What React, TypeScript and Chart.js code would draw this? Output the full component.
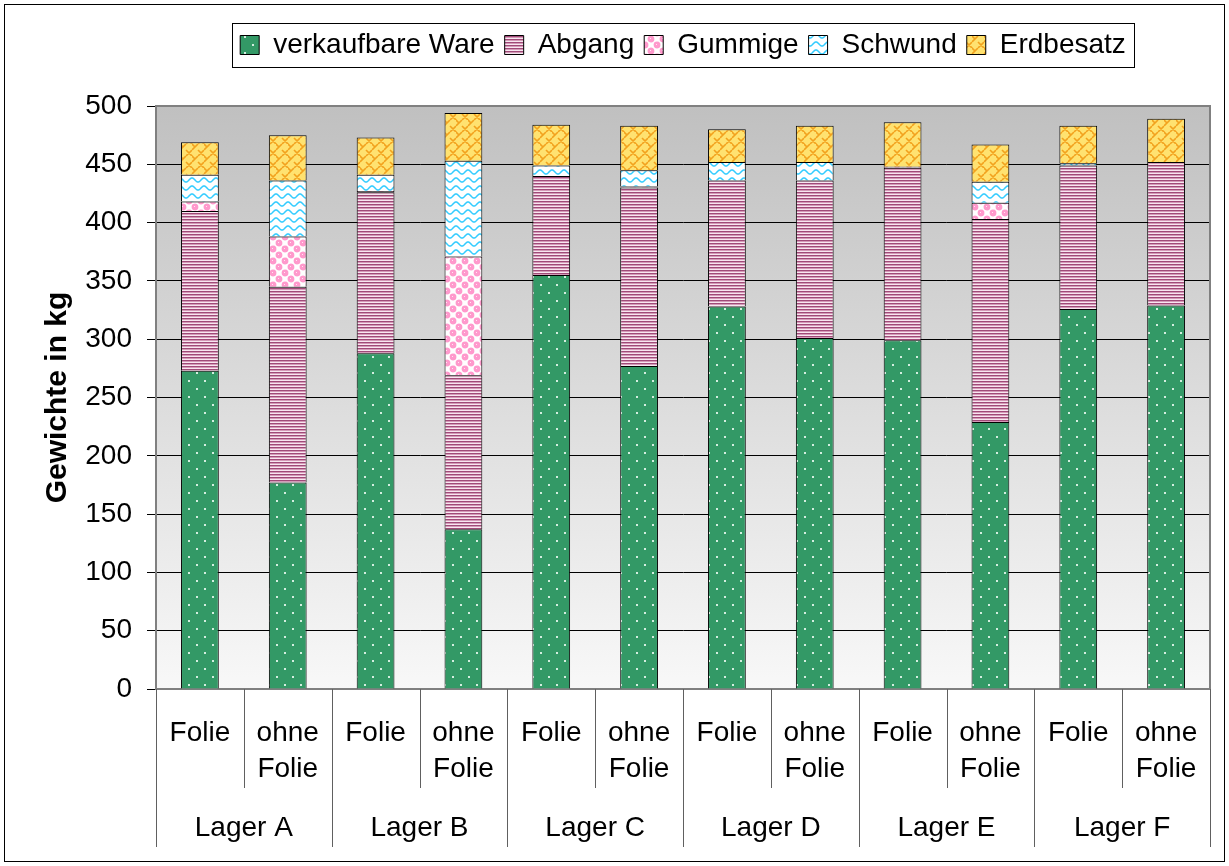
import React, { useEffect, useRef } from 'react';
import { Chart, registerables } from 'chart.js';

Chart.register(...registerables);

// ---- data ----
const lagerLabels = ['Lager A', 'Lager B', 'Lager C', 'Lager D', 'Lager E', 'Lager F'];
const variantLabels = ['Folie', 'ohne Folie'];
const seriesNames = ['verkaufbare Ware', 'Abgang', 'Gummige', 'Schwund', 'Erdbesatz'];
const verkaufbareWare = [273, 177, 288, 137, 355, 277, 328, 301, 299, 229, 326, 329];
const abgang = [137, 168, 138, 132, 85, 153, 108, 135, 148, 174, 123, 123];
const gummige = [8, 43, 1, 102, 0, 1, 0, 0, 1, 14, 0, 0];
const schwund = [23, 48, 14, 82, 9, 14, 16, 16, 0, 18, 2, 0];
const erdbesatz = [28, 39, 32, 41, 35, 38, 28, 31, 38, 32, 32, 37];
const yMin = 0;
const yMax = 500;
const yStep = 50;
const yTitle = 'Gewichte in kg';

const FONT = '"Liberation Sans", Arial, Helvetica, sans-serif';

function makePattern(w: number, h: number, draw: (g: CanvasRenderingContext2D) => void): CanvasPattern {
  const c = document.createElement('canvas');
  c.width = w;
  c.height = h;
  const g = c.getContext('2d')!;
  draw(g);
  return g.createPattern(c, 'repeat')!;
}

function buildPatterns() {
  const green = makePattern(16, 16, (g) => {
    g.fillStyle = '#339966';
    g.fillRect(0, 0, 16, 16);
    g.fillStyle = '#d4eee0';
    g.fillRect(4, 4, 2, 2);
    g.fillRect(12, 12, 2, 2);
  });
  const stripes = makePattern(4, 3, (g) => {
    g.fillStyle = '#f8e6f0';
    g.fillRect(0, 0, 4, 3);
    g.fillStyle = '#a04a78';
    g.fillRect(0, 0, 4, 1);
    g.fillStyle = '#d49ab8';
    g.fillRect(0, 1, 4, 1);
  });
  const bubbles = makePattern(12, 12, (g) => {
    g.fillStyle = '#ffffff';
    g.fillRect(0, 0, 12, 12);
    g.fillStyle = '#ff99cc';
    const centers = [[3, 3], [9, 9]];
    for (const [cx, cy] of centers) {
      for (const dx of [-12, 0, 12]) {
        for (const dy of [-12, 0, 12]) {
          g.beginPath();
          g.arc(cx + dx, cy + dy, 3.4, 0, Math.PI * 2);
          g.fill();
        }
      }
    }
    g.fillStyle = '#ffe6f2';
    g.fillRect(2, 2, 1, 1);
    g.fillRect(8, 8, 1, 1);
  });
  const waves = makePattern(12, 8, (g) => {
    g.fillStyle = '#ffffff';
    g.fillRect(0, 0, 12, 8);
    g.strokeStyle = '#33ccff';
    g.lineWidth = 1.6;
    g.beginPath();
    for (let x = -1; x <= 13; x += 0.5) {
      const y = 4 - 2 * Math.cos((2 * Math.PI * x) / 12);
      if (x === -1) g.moveTo(x, y);
      else g.lineTo(x, y);
    }
    g.stroke();
  });
  const weave = makePattern(12, 12, (g) => {
    g.fillStyle = '#ffe270';
    g.fillRect(0, 0, 12, 12);
    g.strokeStyle = '#f2a21e';
    g.lineWidth = 1.6;
    g.beginPath();
    g.moveTo(0, 6); g.lineTo(6, 0);
    g.moveTo(6, 12); g.lineTo(12, 6);
    g.moveTo(6, 6); g.lineTo(12, 12);
    g.moveTo(0, 0); g.lineTo(3, 3);
    g.moveTo(-1, 11); g.lineTo(1, 13);
    g.stroke();
  });
  return [green, stripes, bubbles, waves, weave];
}

const decorPlugin = {
  id: 'decor',
  beforeDraw(chart: any) {
    const { ctx, chartArea: a, width, height } = chart;
    ctx.save();
    ctx.fillStyle = '#ffffff';
    ctx.fillRect(0, 0, width, height);
    const grad = ctx.createLinearGradient(0, a.top, 0, a.bottom);
    grad.addColorStop(0, '#c0c0c0');
    grad.addColorStop(1, '#f8f8f8');
    ctx.fillStyle = grad;
    ctx.fillRect(a.left, a.top, a.right - a.left, a.bottom - a.top);
    ctx.restore();
  },
  afterDraw(chart: any) {
    const { ctx, chartArea: a, width, height } = chart;
    const xs = chart.scales.x;
    ctx.save();
    // plot area border (top / right)
    ctx.strokeStyle = '#808080';
    ctx.lineWidth = 2;
    ctx.beginPath();
    ctx.moveTo(a.left, a.top);
    ctx.lineTo(a.right, a.top);
    ctx.lineTo(a.right, a.bottom);
    ctx.stroke();

    // category separators
    const n = xs.ticks.length;
    const half = (xs.getPixelForValue(1) - xs.getPixelForValue(0)) / 2;
    ctx.strokeStyle = '#606060';
    ctx.lineWidth = 1;
    for (let i = 0; i <= n; i++) {
      const px = Math.round(i < n ? xs.getPixelForValue(i) - half : xs.getPixelForValue(n - 1) + half) + 0.5;
      const long = i % 2 === 0;
      ctx.beginPath();
      ctx.moveTo(px, a.bottom);
      ctx.lineTo(px, a.bottom + (long ? 158 : 99));
      ctx.stroke();
    }

    // group labels
    ctx.fillStyle = '#000';
    ctx.font = `28px ${FONT}`;
    ctx.textAlign = 'center';
    ctx.textBaseline = 'middle';
    lagerLabels.forEach((lbl, gi) => {
      const cx = (xs.getPixelForValue(gi * 2) + xs.getPixelForValue(gi * 2 + 1)) / 2;
      ctx.fillText(lbl, cx, a.bottom + 139);
    });

    // legend frame
    const lg = chart.legend;
    if (lg && lg.legendHitBoxes && lg.legendHitBoxes.length) {
      const hb = lg.legendHitBoxes;
      const first = hb[0];
      const last = hb[hb.length - 1];
      const l = Math.round(first.left - 8) + 0.5;
      const r = Math.round(last.left + last.width + 8) + 0.5;
      const t = Math.round(first.top - 8) + 0.5;
      const b = Math.round(first.top + first.height + 8) + 0.5;
      ctx.strokeStyle = '#000';
      ctx.lineWidth = 1;
      ctx.strokeRect(l, t, r - l, b - t);
    }

    // outer chart border
    ctx.strokeStyle = '#000';
    ctx.lineWidth = 1;
    ctx.strokeRect(4.5, 4.5, width - 9, height - 9);
    ctx.restore();
  },
};

export default function App() {
  const ref = useRef<HTMLCanvasElement>(null);

  useEffect(() => {
    const canvas = ref.current!;
    Chart.defaults.font.family = FONT;
    Chart.defaults.color = '#000';
    const patterns = buildPatterns();
    const labels = lagerLabels.flatMap(() => variantLabels.map((v) => v.split(' ')));
    const seriesData = [verkaufbareWare, abgang, gummige, schwund, erdbesatz];

    const chart = new Chart(canvas, {
      type: 'bar',
      data: {
        labels,
        datasets: seriesData.map((d, i) => ({
          label: seriesNames[i],
          data: d,
          backgroundColor: patterns[i],
          borderColor: '#000',
          borderWidth: 1,
          barPercentage: 0.43,
          categoryPercentage: 1,
        })),
      },
      options: {
        responsive: false,
        animation: false,
        events: [],
        layout: { padding: { top: 21, right: 19, bottom: 0, left: 0 } },
        plugins: {
          tooltip: { enabled: false },
          legend: {
            position: 'top',
            fullSize: false,
            align: 'center',
            weight: 1000,
            labels: {
              boxWidth: 19,
              boxHeight: 19,
              padding: 10,
              color: '#000',
              font: { size: 28, family: FONT },
            },
          },
          // empty spacer between legend and plot area
          title: {
            display: true,
            text: '',
            position: 'top',
            fullSize: false,
            weight: 500,
            font: { size: 10, lineHeight: 1 },
            padding: { top: 0, bottom: 27 },
          },
        },
        scales: {
          x: {
            stacked: true,
            grid: { display: false, drawTicks: false },
            border: { display: true, color: '#808080', width: 2 },
            ticks: {
              autoSkip: false,
              maxRotation: 0,
              minRotation: 0,
              padding: 26,
              color: '#000',
              font: { size: 28, family: FONT, lineHeight: 36 / 28 },
            },
            afterFit: (s: any) => {
              s.height = 177;
              s.paddingLeft = 0;
              s.paddingRight = 0;
            },
          },
          y: {
            stacked: true,
            min: yMin,
            max: yMax,
            ticks: {
              stepSize: yStep,
              padding: 15,
              color: '#000',
              font: { size: 28, family: FONT },
            },
            grid: {
              color: (c: any) => (c.tick && c.tick.value === yMax ? 'rgba(0,0,0,0)' : '#000'),
              tickColor: '#000',
              tickLength: 9,
              lineWidth: 1,
            },
            border: { color: '#808080', width: 2 },
            title: {
              display: true,
              text: yTitle,
              color: '#000',
              font: { size: 30, weight: 'bold', family: FONT },
              padding: { top: 40, bottom: 0 },
            },
            afterFit: (s: any) => {
              s.width = 156;
            },
          },
        },
      },
      plugins: [decorPlugin],
    } as any);

    return () => chart.destroy();
  }, []);

  return (
    <div style={{ position: 'fixed', left: 0, top: 0, width: 1229, height: 866, background: '#fff' }}>
      <canvas ref={ref} width={1229} height={866} style={{ display: 'block', width: 1229, height: 866 }} />
    </div>
  );
}
